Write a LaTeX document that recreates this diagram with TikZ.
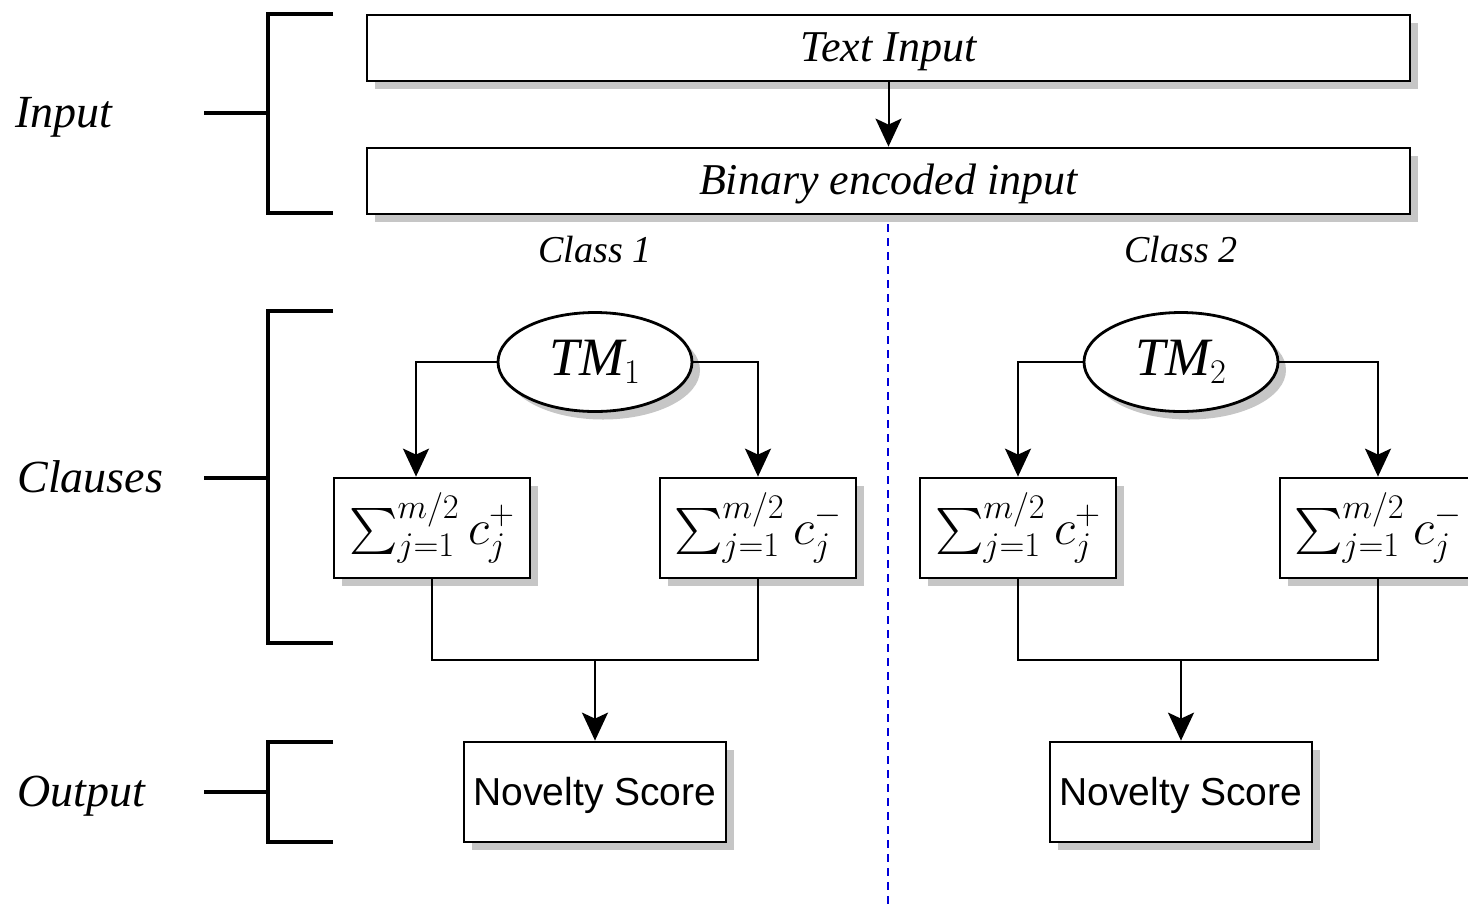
\documentclass[tikz,border=0pt]{standalone}
\usepackage{amsmath,amssymb}
\usepackage{fontspec}
\setmainfont{Liberation Serif}
\setsansfont{Liberation Sans}
\usepackage{tikz}
\usetikzlibrary{arrows.meta,positioning,shapes.geometric,shadows}

\begin{document}
\begin{tikzpicture}[
  x=0.5pt, y=-0.5pt,
  shd/.style={drop shadow={shadow xshift=4pt, shadow yshift=-4pt, fill=gray!45, opacity=1}},
  box/.style={draw, fill=white, line width=1.4pt, inner sep=0pt, shd},
  wide/.style={box, minimum width=521.5pt, minimum height=33pt, text height=15pt, text depth=2pt, font=\fontsize{22}{26}\selectfont\itshape},
  sumbox/.style={box, minimum width=98pt, minimum height=50pt, font=\fontsize{23}{27}\selectfont},
  nov/.style={box, minimum width=131pt, minimum height=50pt, text height=14pt, text depth=1pt, font=\fontsize{19.5}{23}\selectfont\sffamily},
  tm/.style={box, ellipse, minimum width=97pt, minimum height=49.5pt, font=\fontsize{27}{32}\selectfont},
  arr/.style={-{Stealth[length=14pt, width=13pt, inset=3pt]}, line width=1pt},
  conn/.style={line width=1pt},
  brk/.style={line width=2pt},
  side/.style={anchor=west, inner sep=0pt, text height=16pt, text depth=2pt, font=\fontsize{23}{27}\selectfont\itshape},
  cls/.style={font=\fontsize{19}{23}\selectfont\itshape},
  sep/.style={draw=blue!85!black, line width=1pt, dash pattern=on 4pt off 3pt}
]
\useasboundingbox (0,0) rectangle (1468,907);
\clip (0,0) rectangle (1468,907);

% left brackets
\node[side] (lin) at (15,113) {Input};
\node[side] (lcl) at (17,478) {Clauses};
\node[side] (lout) at (17,792) {Output};
\draw[brk] (333,14) -- (268,14) -- (268,213) -- (333,213);
\draw[brk] (204,113) -- (268,113);
\draw[brk] (333,311) -- (268,311) -- (268,643) -- (333,643);
\draw[brk] (204,478) -- (268,478);
\draw[brk] (333,742) -- (268,742) -- (268,842) -- (333,842);
\draw[brk] (204,792) -- (268,792);

% input
\node[wide] (txt) at (888.5,48) {Text Input};
\node[wide] (bin) at (888.5,181) {Binary encoded input};
\draw[arr] (txt) -- (bin);

% separator
\coordinate (dtop) at (888,224);
\coordinate (dbot) at (888,907);
\draw[sep] (dtop) -- (dbot);

% class 1
\node[cls] (cA) at (595,250) {Class 1};
\node[tm] (tmA) at (595,362) {$\mathit{TM}_1$};
\node[sumbox] (sumAp) at (432,528) {$\textstyle\sum_{j=1}^{m/2} c_j^{+}$};
\node[sumbox] (sumAn) at (758,528) {$\textstyle\sum_{j=1}^{m/2} c_j^{-}$};
\node[nov] (novA) at (595,792) {Novelty Score};
\draw[arr] (tmA.west) -| ([xshift=-8pt]sumAp.north);
\draw[arr] (tmA.east) -| (sumAn.north);
\coordinate (mA) at (595,660);
\draw[conn] (sumAp.south) |- (mA) -| (sumAn.south);
\draw[arr] (mA) -- (novA);

% class 2
\node[cls] (cB) at (1181,250) {Class 2};
\node[tm] (tmB) at (1181,362) {$\mathit{TM}_2$};
\node[sumbox] (sumBp) at (1018,528) {$\textstyle\sum_{j=1}^{m/2} c_j^{+}$};
\node[sumbox] (sumBn) at (1378,528) {$\textstyle\sum_{j=1}^{m/2} c_j^{-}$};
\node[nov] (novB) at (1181,792) {Novelty Score};
\draw[arr] (tmB.west) -| (sumBp.north);
\draw[arr] (tmB.east) -| (sumBn.north);
\coordinate (mB) at (1181,660);
\draw[conn] (sumBp.south) |- (mB) -| (sumBn.south);
\draw[arr] (mB) -- (novB);
\end{tikzpicture}
\end{document}
